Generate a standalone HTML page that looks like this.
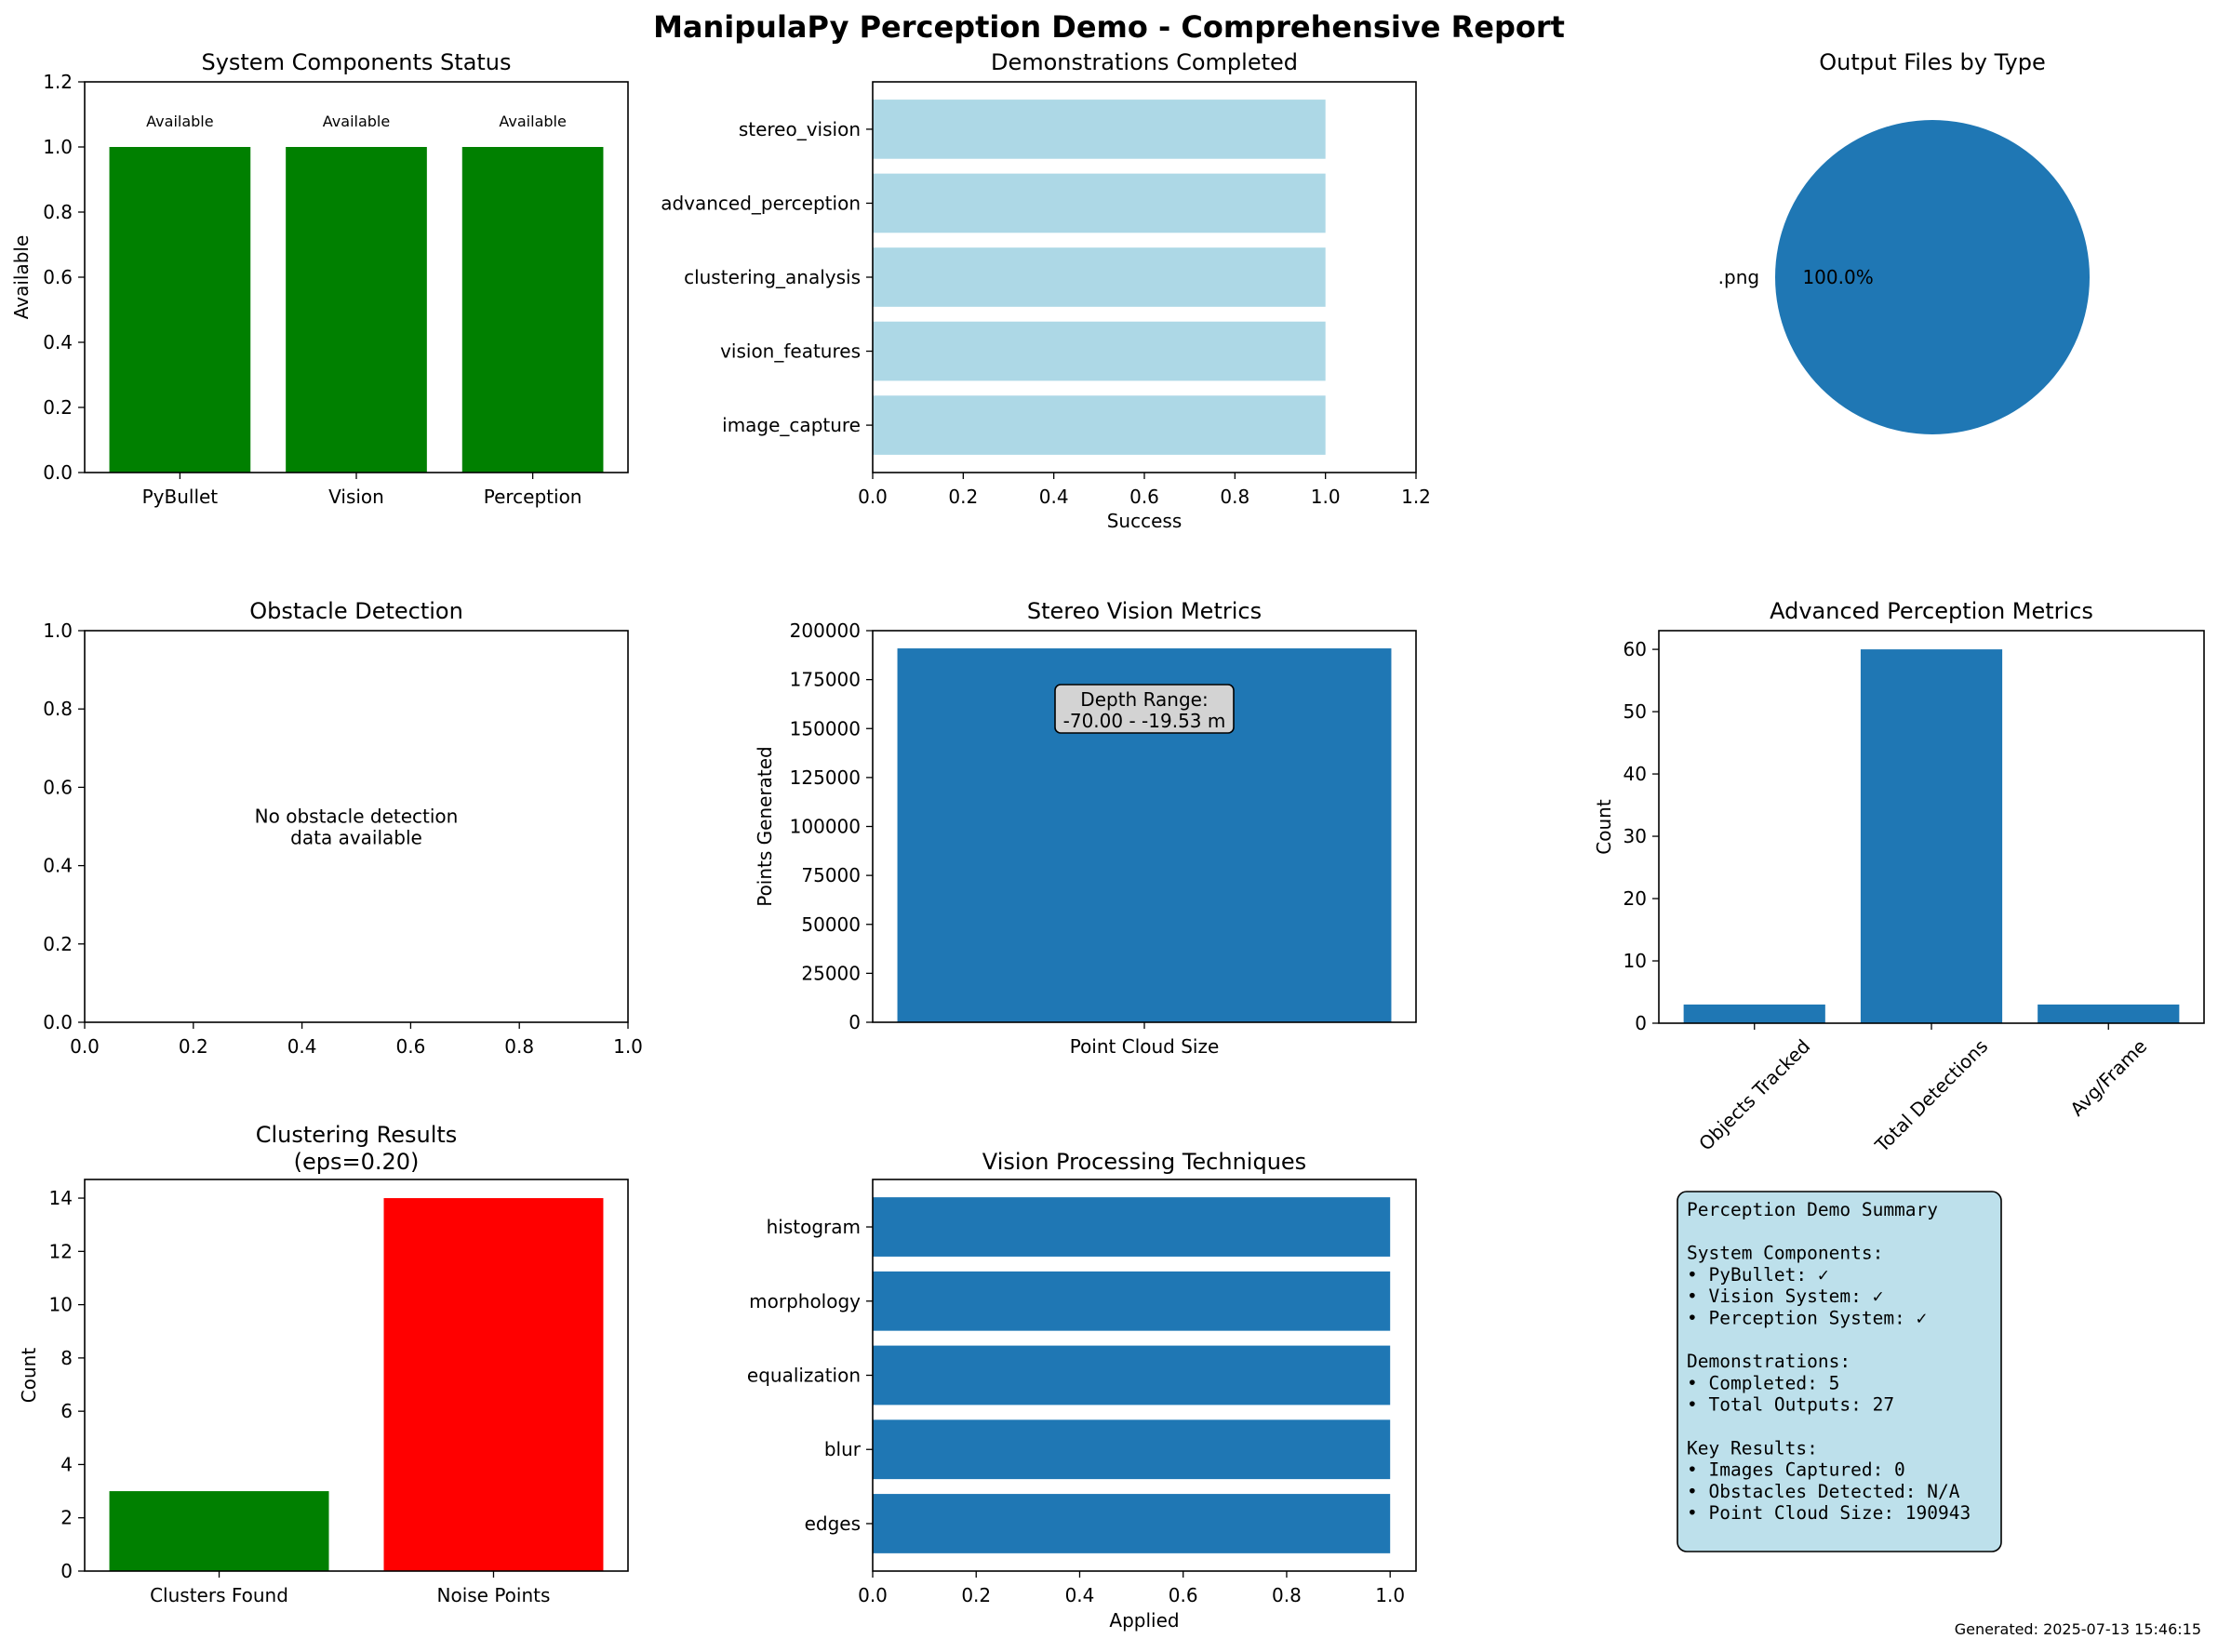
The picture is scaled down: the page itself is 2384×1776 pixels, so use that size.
<!DOCTYPE html>
<html><head><meta charset="utf-8">
<style>
html,body{margin:0;padding:0;background:#fff;}
svg{display:block;font-family:"DejaVu Sans","Liberation Sans",sans-serif;}
</style></head>
<body>
<svg id="fig" xmlns="http://www.w3.org/2000/svg" width="2384" height="1776" viewBox="0 0 2384 1776">
<rect width="2384" height="1776" fill="#fff"/>
<text x="1192" y="40" font-size="32" font-weight="bold" text-anchor="middle">ManipulaPy Perception Demo - Comprehensive Report</text>
</svg>
<script>
// ---- data ----
const compCats = ["PyBullet","Vision","Perception"];
const compVals = [1,1,1];
const compLabels = ["Available","Available","Available"];
const compTicks = [0,0.2,0.4,0.6,0.8,1.0,1.2];
const demoCats = ["image_capture","vision_features","clustering_analysis","advanced_perception","stereo_vision"];
const demoVals = [1,1,1,1,1];
const demoTicks = [0,0.2,0.4,0.6,0.8,1.0,1.2];
const fileTypes = [".png"];
const fileCounts = [27];
const obsTicks = [0,0.2,0.4,0.6,0.8,1.0];
const stereoCats = ["Point Cloud Size"];
const stereoVals = [190943];
const stereoTicks = [0,25000,50000,75000,100000,125000,150000,175000,200000];
const advCats = ["Objects Tracked","Total Detections","Avg/Frame"];
const advVals = [3,60,3];
const advTicks = [0,10,20,30,40,50,60];
const clusCats = ["Clusters Found","Noise Points"];
const clusVals = [3,14];
const clusColors = ["#008000","#ff0000"];
const clusTicks = [0,2,4,6,8,10,12,14];
const visCats = ["edges","blur","equalization","morphology","histogram"];
const visVals = [1,1,1,1,1];
const visTicks = [0,0.2,0.4,0.6,0.8,1.0];

const svg = document.getElementById('fig');
const NS = "http://www.w3.org/2000/svg";
function mk(tag, attrs, parent){
  const e = document.createElementNS(NS, tag);
  for (const k in attrs) e.setAttribute(k, attrs[k]);
  (parent||svg).appendChild(e);
  return e;
}
function txt(s, attrs, parent){ const t = mk('text', attrs, parent); t.textContent = s; return t; }
function linear(d0,d1,r0,r1){ return v => r0 + (v-d0)/(d1-d0)*(r1-r0); }

function frame(g, L,T,R,B){
  const f = mk('rect',{x:L,y:T,width:R-L,height:B-T,fill:'none',stroke:'#000','stroke-width':1.6},g);
  
  
}
function yTicks(g, ticks, ys, L, dec){
  ticks.forEach(v=>{
    const y = ys(v);
    mk('line',{x1:L-7,x2:L,y1:y,y2:y,stroke:'#000','stroke-width':1.3},g);
    const t = txt(dec!==undefined? v.toFixed(dec): String(v),{x:L-13,y:y+7,'font-size':20,'text-anchor':'end'},g);
    
    
  });
}
function xTicks(g, ticks, xs, B, dec){
  ticks.forEach(v=>{
    const x = xs(v);
    mk('line',{x1:x,x2:x,y1:B,y2:B+7,stroke:'#000','stroke-width':1.3},g);
    const t = txt(dec!==undefined? v.toFixed(dec): String(v),{x:x,y:B+33,'font-size':20,'text-anchor':'middle'},g);
    
    
  });
}
function title(g, s, cx, y){
  const t = txt(s,{x:cx,y:y,'font-size':24,'text-anchor':'middle'},g);
  
  
}
function ylabel(g, s, x, cy){
  const t = txt(s,{x:x,y:cy,'font-size':20,'text-anchor':'middle',transform:`rotate(-90 ${x} ${cy})`},g);
  
  
}
function xlabel(g, s, cx, y){
  const t = txt(s,{x:cx,y:y,'font-size':20,'text-anchor':'middle'},g);
  
  
}
function panel(name){
  const g = mk('g',{});
  
  
  return g;
}

// ---- Panel 1: System Components Status ----
(function(){
  const g = panel('system-components-panel');
  const L=91,R=675,T=88,B=508;
  const n=compCats.length, pad=0.4+0.05*(n-1+0.8);
  const xs = linear(-pad, n-1+pad, L, R);
  const ys = linear(0,1.2,B,T);
  compVals.forEach((v,i)=>{
    const r = mk('rect',{x:xs(i-0.4),y:ys(v),width:xs(i+0.4)-xs(i-0.4),height:B-ys(v),fill:'#008000'},g);
    
    
    const t = txt(compLabels[i],{x:xs(i),y:ys(v+0.08)+6,'font-size':16,'text-anchor':'middle'},g);
    
    
    mk('line',{x1:xs(i),x2:xs(i),y1:B,y2:B+7,stroke:'#000','stroke-width':1.3},g);
    const tl = txt(compCats[i],{x:xs(i),y:B+33,'font-size':20,'text-anchor':'middle'},g);
    
    
  });
  yTicks(g, compTicks, ys, L, 1);
  frame(g,L,T,R,B);
  title(g,'System Components Status',(L+R)/2,75);
  ylabel(g,'Available',30,(T+B)/2);
})();

// ---- Panel 2: Demonstrations Completed ----
(function(){
  const g = panel('demonstrations-panel');
  const L=938,R=1522,T=88,B=508;
  const n=demoCats.length, pad=0.4+0.05*(n-1+0.8);
  const ys = linear(-pad, n-1+pad, B, T);
  const xs = linear(0,1.2,L,R);
  demoVals.forEach((v,i)=>{
    const r = mk('rect',{x:L,y:ys(i+0.4),width:xs(v)-L,height:ys(i-0.4)-ys(i+0.4),fill:'#add8e6'},g);
    
    
    mk('line',{x1:L-7,x2:L,y1:ys(i),y2:ys(i),stroke:'#000','stroke-width':1.3},g);
    const t = txt(demoCats[i],{x:L-13,y:ys(i)+7,'font-size':20,'text-anchor':'end'},g);
    
    
  });
  xTicks(g, demoTicks, xs, B, 1);
  frame(g,L,T,R,B);
  title(g,'Demonstrations Completed',(L+R)/2,75);
  xlabel(g,'Success',(L+R)/2,567);
})();

// ---- Panel 3: Output Files pie ----
(function(){
  const g = panel('output-files-panel');
  const cx=2077, cy=298, r=169;
  const total = fileCounts.reduce((a,b)=>a+b,0);
  let a0 = Math.PI;
  fileCounts.forEach((c,i)=>{
    const frac = c/total;
    let el;
    if (frac>=0.9999){
      el = mk('circle',{cx:cx,cy:cy,r:r,fill:'#1f77b4'},g);
    } else {
      const a1 = a0 + frac*2*Math.PI;
      const p = `M${cx},${cy} L${cx+r*Math.cos(a0)},${cy-r*Math.sin(a0)} A${r},${r} 0 ${frac>0.5?1:0} 0 ${cx+r*Math.cos(a1)},${cy-r*Math.sin(a1)} Z`;
      el = mk('path',{d:p,fill:'#1f77b4'},g);
      a0 = a1;
    }
    
    
    const mid = Math.PI;
    const l = txt(fileTypes[i],{x:cx+1.1*r*Math.cos(mid),y:cy+7,'font-size':20,'text-anchor':'end'},g);
    
    
    const pc = txt((frac*100).toFixed(1)+'%',{x:cx+0.6*r*Math.cos(mid),y:cy+7,'font-size':20,'text-anchor':'middle'},g);
    
    
  });
  title(g,'Output Files by Type',cx,75);
})();

// ---- Panel 4: Obstacle Detection ----
(function(){
  const g = panel('obstacle-detection-panel');
  const L=91,R=675,T=678,B=1099;
  const xs = linear(0,1,L,R), ys = linear(0,1,B,T);
  yTicks(g, obsTicks, ys, L, 1);
  xTicks(g, obsTicks, xs, B, 1);
  frame(g,L,T,R,B);
  title(g,'Obstacle Detection',(L+R)/2,665);
  const t1 = txt('No obstacle detection',{x:xs(0.5),y:ys(0.5)-4,'font-size':20,'text-anchor':'middle'},g);
  
  
  const t2 = txt('data available',{x:xs(0.5),y:ys(0.5)+19,'font-size':20,'text-anchor':'middle'},g);
  
  
})();

// ---- Panel 5: Stereo Vision Metrics ----
(function(){
  const g = panel('stereo-vision-panel');
  const L=938,R=1522,T=678,B=1099;
  const xs = linear(-0.44,0.44,L,R);
  const ys = linear(0,200000,B,T);
  stereoVals.forEach((v,i)=>{
    const r = mk('rect',{x:xs(i-0.4),y:ys(v),width:xs(i+0.4)-xs(i-0.4),height:B-ys(v),fill:'#1f77b4'},g);
    
    
    mk('line',{x1:xs(i),x2:xs(i),y1:B,y2:B+7,stroke:'#000','stroke-width':1.3},g);
    const t = txt(stereoCats[i],{x:xs(i),y:B+33,'font-size':20,'text-anchor':'middle'},g);
    
    
  });
  yTicks(g, stereoTicks, ys, L);
  frame(g,L,T,R,B);
  title(g,'Stereo Vision Metrics',(L+R)/2,665);
  ylabel(g,'Points Generated',829,(T+B)/2);
  const bx = mk('rect',{x:1134,y:736,width:192,height:52,rx:6,fill:'#d3d3d3',stroke:'#000','stroke-width':1.6},g);
  
  
  const a = txt('Depth Range:',{x:1230,y:759,'font-size':20,'text-anchor':'middle'},g);
  
  
  const b = txt('-70.00 - -19.53 m',{x:1230,y:782,'font-size':20,'text-anchor':'middle'},g);
  
  
})();

// ---- Panel 6: Advanced Perception Metrics ----
(function(){
  const g = panel('advanced-perception-panel');
  const L=1783,R=2369,T=678,B=1100;
  const n=advCats.length, pad=0.4+0.05*(n-1+0.8);
  const xs = linear(-pad, n-1+pad, L, R);
  const ys = linear(0,63,B,T);
  advVals.forEach((v,i)=>{
    const r = mk('rect',{x:xs(i-0.4),y:ys(v),width:xs(i+0.4)-xs(i-0.4),height:B-ys(v),fill:'#1f77b4'},g);
    
    
    mk('line',{x1:xs(i),x2:xs(i),y1:B,y2:B+7,stroke:'#000','stroke-width':1.3},g);
    const t = txt(advCats[i],{x:0,y:0,'font-size':20,'text-anchor':'middle'},g);
    
    
    const w = t.getComputedTextLength();
    const h = 20;
    const cy = B + 14 + (w*0.7071 + h*0.7071)/2;
    const cx = xs(i);
    t.setAttribute('x', cx);
    t.setAttribute('y', cy + 7);
    t.setAttribute('transform', `rotate(-45 ${cx} ${cy})`);
  });
  yTicks(g, advTicks, ys, L);
  frame(g,L,T,R,B);
  title(g,'Advanced Perception Metrics',(L+R)/2,665);
  ylabel(g,'Count',1731,(T+B)/2);
})();

// ---- Panel 7: Clustering Results ----
(function(){
  const g = panel('clustering-panel');
  const L=91,R=675,T=1268,B=1689;
  const n=clusCats.length, pad=0.4+0.05*(n-1+0.8);
  const xs = linear(-pad, n-1+pad, L, R);
  const ys = linear(0,14.7,B,T);
  clusVals.forEach((v,i)=>{
    const r = mk('rect',{x:xs(i-0.4),y:ys(v),width:xs(i+0.4)-xs(i-0.4),height:B-ys(v),fill:clusColors[i]},g);
    
    
    mk('line',{x1:xs(i),x2:xs(i),y1:B,y2:B+7,stroke:'#000','stroke-width':1.3},g);
    const t = txt(clusCats[i],{x:xs(i),y:B+33,'font-size':20,'text-anchor':'middle'},g);
    
    
  });
  yTicks(g, clusTicks, ys, L);
  frame(g,L,T,R,B);
  title(g,'Clustering Results',(L+R)/2,1228);
  title(g,'(eps=0.20)',(L+R)/2,1257);
  ylabel(g,'Count',38,(T+B)/2);
})();

// ---- Panel 8: Vision Processing Techniques ----
(function(){
  const g = panel('vision-techniques-panel');
  const L=938,R=1522,T=1268,B=1689;
  const n=visCats.length, pad=0.4+0.05*(n-1+0.8);
  const ys = linear(-pad, n-1+pad, B, T);
  const xs = linear(0,1.05,L,R);
  visVals.forEach((v,i)=>{
    const r = mk('rect',{x:L,y:ys(i+0.4),width:xs(v)-L,height:ys(i-0.4)-ys(i+0.4),fill:'#1f77b4'},g);
    
    
    mk('line',{x1:L-7,x2:L,y1:ys(i),y2:ys(i),stroke:'#000','stroke-width':1.3},g);
    const t = txt(visCats[i],{x:L-13,y:ys(i)+7,'font-size':20,'text-anchor':'end'},g);
    
    
  });
  xTicks(g, visTicks, xs, B, 1);
  frame(g,L,T,R,B);
  title(g,'Vision Processing Techniques',(L+R)/2,1257);
  xlabel(g,'Applied',(L+R)/2,1749);
})();

// ---- Panel 9: Summary text box ----
(function(){
  const g = panel('summary-panel');
  const bx = mk('rect',{x:1803,y:1281,width:348,height:387,rx:10,fill:'#add8e6','fill-opacity':0.8,stroke:'#000','stroke-width':1.6},g);
  
  
  const lines = ["Perception Demo Summary","","System Components:","• PyBullet: ✓","• Vision System: ✓","• Perception System: ✓","","Demonstrations:","• Completed: 5","• Total Outputs: 27","","Key Results:","• Images Captured: 0","• Obstacles Detected: N/A","• Point Cloud Size: 190943"];
  lines.forEach((s,i)=>{
    if(!s) return;
    const t = txt(s,{x:1813,y:1307+i*23.3,'font-size':19.5,'font-family':'"DejaVu Sans Mono","Liberation Mono",monospace'},g);
    
    
  });
})();

const foot = txt('Generated: 2025-07-13 15:46:15',{x:2366,y:1757,'font-size':16,'text-anchor':'end'});


</script>
</body></html>
